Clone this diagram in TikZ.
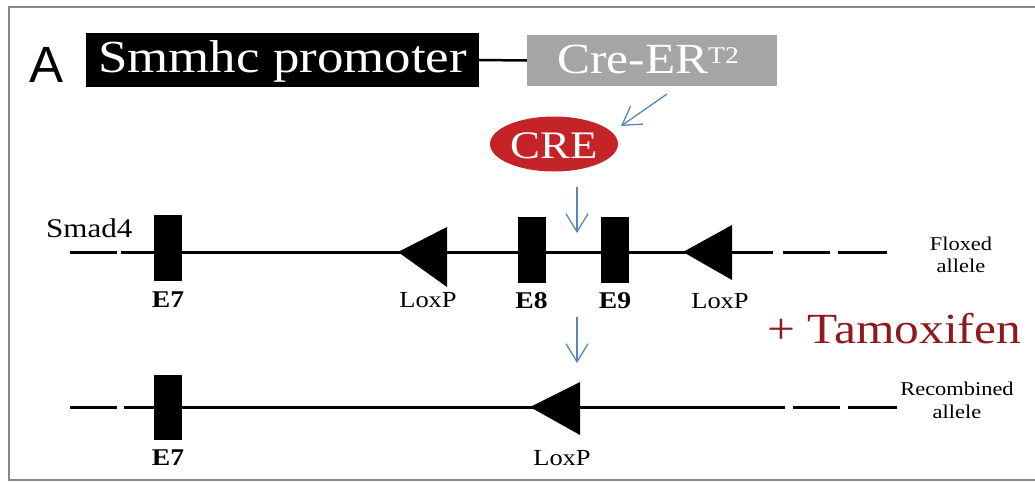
\documentclass[tikz,border=0pt]{standalone}
\usepackage{fontspec}
\setmainfont{Liberation Serif}[FakeStretch=1.15]
\newfontfamily\labelsans{Liberation Sans}
\usetikzlibrary{arrows.meta,shapes.geometric}
\definecolor{framegray}{RGB}{135,135,135}
\definecolor{boxgray}{RGB}{165,165,165}
\definecolor{crered}{RGB}{196,36,40}
\definecolor{tamred}{RGB}{140,26,30}
\definecolor{arrowblue}{RGB}{85,135,190}
\tikzset{
  frame/.style={draw=framegray, line width=2pt},
  genebox/.style={fill=black, text=white, inner sep=0pt, minimum height=54pt,
    text height=24pt, text depth=0pt, font=\fontsize{46}{50}\selectfont},
  crebox/.style={fill=boxgray, text=white, inner sep=0pt, minimum height=51pt,
    text height=25pt, text depth=0pt, font=\fontsize{43}{50}\selectfont},
  creoval/.style={ellipse, fill=crered, text=white, inner sep=0pt, minimum width=128pt,
    minimum height=55pt, text height=28pt, text depth=0pt, font=\fontsize{39}{44}\selectfont},
  dna/.style={line width=3pt, black},
  exon/.style={fill=black, inner sep=0pt, minimum width=28pt, minimum height=66pt},
  exlabel/.style={anchor=base, inner sep=0pt, font=\fontsize{24}{28}\selectfont\bfseries},
  loxlabel/.style={anchor=base, inner sep=0pt, font=\fontsize{23}{28}\selectfont},
  allelelabel/.style={anchor=base, inner sep=0pt, align=center, font=\fontsize{19.5}{23}\selectfont},
  bluearrow/.style={draw=arrowblue, line width=1.3pt, -{Straight Barb[length=18pt,width=22pt,line width=1.3pt]}},
  loxtri/.style={fill=black}
}
\begin{document}
\begin{tikzpicture}[x=1pt,y=-1pt]
\useasboundingbox (0,0) rectangle (1035,482);
% frame
\draw[frame] (1035,7) -- (9,7) -- (9,480) -- (1035,480);

% top construct
\node[anchor=base west, inner sep=0pt, font=\labelsans\fontsize{51}{56}\selectfont] (lblA) at (29,82) {A};
\node[genebox, minimum width=393pt] (prom) at (282.5,60) {Smmhc promoter};
\node[crebox, minimum width=250pt] (creer) at (652,60.5) {\hspace*{-8pt}Cre-ER\raisebox{10pt}{\fontsize{24}{26}\selectfont T2}};
\draw[line width=2.5pt] (prom.east) -- (creer.west);

\node[creoval] (cre) at (554,144) {CRE};
\coordinate (a1s) at (667,94);
\coordinate (a1e) at (621,126);
\draw[bluearrow] (a1s) -- (a1e);

% floxed allele
\coordinate (f0) at (70,252);
\coordinate (f1) at (117,252);
\coordinate (f2) at (121,252);
\coordinate (f3) at (773,252);
\coordinate (f4) at (783,252);
\coordinate (f5) at (830,252);
\coordinate (f6) at (838,252);
\coordinate (f7) at (887,252);
\draw[dna] (f0) -- (f1) (f2) -- (f3) (f4) -- (f5) (f6) -- (f7);

\node[anchor=base west, inner sep=0pt, font=\fontsize{27}{30}\selectfont] (smad) at (46,237) {Smad4};

\node[exon] (e7a) at (168,248) {};
\node[exlabel] (e7al) at (168,307) {E7};
\node[exon] (e8) at (531.5,250) {};
\node[exlabel] (e8l) at (531.5,308) {E8};
\node[exon] (e9) at (615,250) {};
\node[exlabel] (e9l) at (615,308) {E9};

\fill[loxtri] (398,252) -- (447,227) -- (447,287) -- cycle;
\node[loxlabel] (lox1) at (428,307) {LoxP};
\fill[loxtri] (683,252) -- (732,225) -- (732,280) -- cycle;
\node[loxlabel] (lox2) at (720,308) {LoxP};

\node[allelelabel] (flox) at (961,250) {Floxed};
\node[allelelabel] (floxb) at (961,272) {allele};

\coordinate (a2s) at (577,187);
\coordinate (a2e) at (577,233);
\draw[bluearrow] (a2s) -- (a2e);

\node[anchor=base west, inner sep=0pt, text=tamred, font=\fontsize{43}{48}\selectfont] (tam) at (767,343) {+ Tamoxifen};

\coordinate (a3s) at (577,317);
\coordinate (a3e) at (577,363);
\draw[bluearrow] (a3s) -- (a3e);

% recombined allele
\coordinate (r0) at (70,407);
\coordinate (r1) at (117,407);
\coordinate (r2) at (124,407);
\coordinate (r3) at (785,407);
\coordinate (r4) at (793,407);
\coordinate (r5) at (840,407);
\coordinate (r6) at (848,407);
\coordinate (r7) at (897,407);
\draw[dna] (r0) -- (r1) (r2) -- (r3) (r4) -- (r5) (r6) -- (r7);

\node[exon, minimum height=65pt] (e7b) at (168,407.5) {};
\node[exlabel] (e7bl) at (168,465) {E7};
\fill[loxtri] (530,407) -- (580,382) -- (580,435) -- cycle;
\node[loxlabel] (lox3) at (562,465) {LoxP};

\node[allelelabel] (recomb) at (957,395) {Recombined};
\node[allelelabel] (recombb) at (957,418) {allele};
\end{tikzpicture}
\end{document}
